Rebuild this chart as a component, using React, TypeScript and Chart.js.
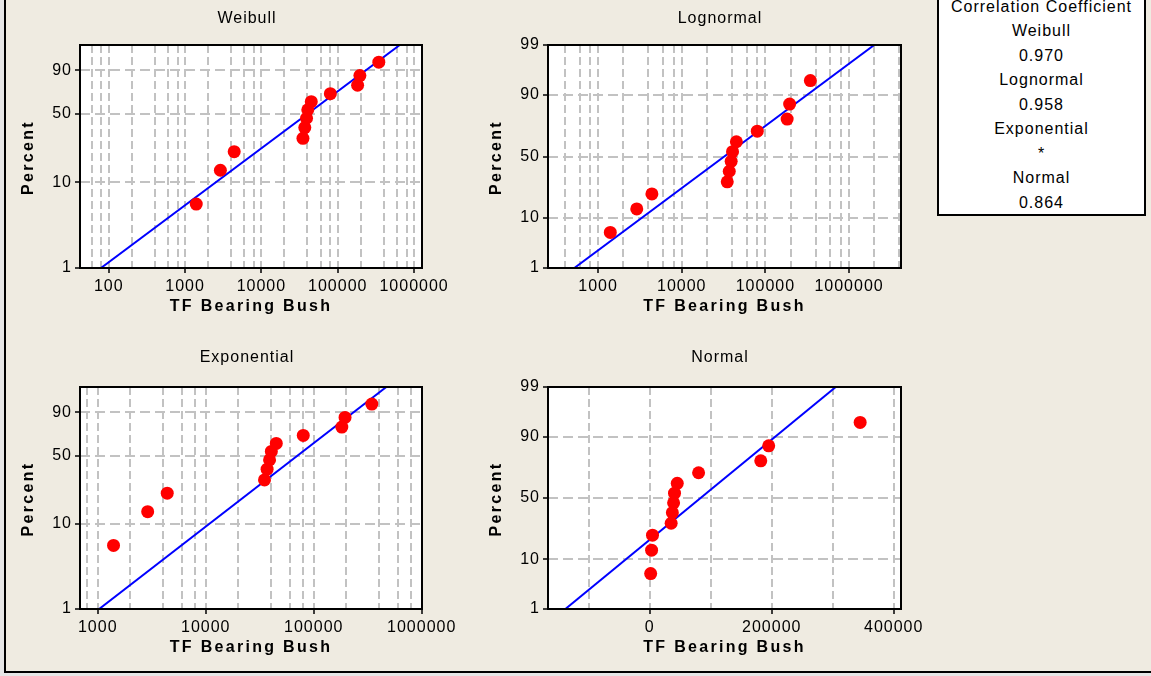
import React, { useEffect, useRef } from 'react';
import { Chart, Scale, registerables } from 'chart.js';

Chart.register(...registerables);

// ---------------- data ----------------
const tfBearingBush = [1400, 2900, 4400, 35000, 37000, 39000, 40500, 45000, 80000, 182000, 195000, 345000];
const percentRank = [5.65, 13.71, 21.77, 29.84, 37.9, 45.97, 54.03, 62.1, 70.16, 78.23, 86.29, 94.35];

const fitPercent = [1, 99];
const weibullFitX = [79, 650000];
const lognormalFitX = [520, 2000000];
const exponentialFitX = [1030, 470000];
const normalFitX = [-138500, 305000];

const weibullPercentTicks = [1, 10, 50, 90];
const lognormalPercentTicks = [1, 10, 50, 90, 99];
const exponentialPercentTicks = [1, 10, 50, 90];
const normalPercentTicks = [1, 10, 50, 90, 99];

const weibullXLabels = [100, 1000, 10000, 100000, 1000000];
const lognormalXLabels = [1000, 10000, 100000, 1000000];
const exponentialXLabels = [1000, 10000, 100000, 1000000];
const normalXLabels = [0, 200000, 400000];
const normalXGrid = [-100000, 0, 100000, 200000, 300000, 400000];
const logGridSteps = [1, 2, 4, 6, 8];

const correlationTitle = 'Correlation Coefficient';
const correlationNames = ['Weibull', 'Lognormal', 'Exponential', 'Normal'];
const correlationValues = ['0.970', '0.958', '*', '0.864'];

const xAxisTitle = 'TF Bearing Bush';
const yAxisTitle = 'Percent';

// ---------------- styling ----------------
const FONT_FAMILY = "'Liberation Sans', Arial, Helvetica, sans-serif";
const GRID_COLOR = '#c2c2c2';
const PAGE_BG = '#EFEBE1';

function logGrid(min: number, max: number) {
  const out: number[] = [];
  for (let e = 0; e <= 7; e++) {
    for (const s of logGridSteps) {
      const v = s * Math.pow(10, e);
      if (v >= min && v <= max) out.push(v);
    }
  }
  return out;
}

// inverse standard normal CDF (Acklam)
function probit(p: number) {
  const a = [-3.969683028665376e1, 2.209460984245205e2, -2.759285104469687e2, 1.38357751867269e2, -3.066479806614716e1, 2.506628277459239];
  const b = [-5.447609879822406e1, 1.615858368580409e2, -1.556989798598866e2, 6.680131188771972e1, -1.328068155288572e1];
  const c = [-7.784894002430293e-3, -3.223964580411365e-1, -2.400758277161838, -2.549732539343734, 4.374664141464968, 2.938163982698783];
  const d = [7.784695709041462e-3, 3.224671290700398e-1, 2.445134137142996, 3.754408661907416];
  const pl = 0.02425;
  if (p < pl) {
    const q = Math.sqrt(-2 * Math.log(p));
    return (((((c[0] * q + c[1]) * q + c[2]) * q + c[3]) * q + c[4]) * q + c[5]) / ((((d[0] * q + d[1]) * q + d[2]) * q + d[3]) * q + 1);
  }
  if (p > 1 - pl) {
    const q = Math.sqrt(-2 * Math.log(1 - p));
    return -(((((c[0] * q + c[1]) * q + c[2]) * q + c[3]) * q + c[4]) * q + c[5]) / ((((d[0] * q + d[1]) * q + d[2]) * q + d[3]) * q + 1);
  }
  const q = p - 0.5;
  const r = q * q;
  return ((((((a[0] * r + a[1]) * r + a[2]) * r + a[3]) * r + a[4]) * r + a[5]) * q) / (((((b[0] * r + b[1]) * r + b[2]) * r + b[3]) * r + b[4]) * r + 1);
}

// probability-paper axis: values are percents, positions follow the distribution
class ProbabilityScale extends Scale {
  static id = 'probability';
  static defaults = {};
  transformValue(v: number) {
    const p = v / 100;
    return (this.options as any).distribution === 'normal' ? probit(p) : Math.log(-Math.log(1 - p));
  }
  determineDataLimits() {
    const o: any = this.options;
    this.min = o.min;
    this.max = o.max;
  }
  buildTicks() {
    return [];
  }
  getLabelForValue(v: number) {
    return String(v);
  }
  getPixelForValue(v: number) {
    const t0 = this.transformValue(this.min);
    const t1 = this.transformValue(this.max);
    return this.getPixelForDecimal((this.transformValue(v) - t0) / (t1 - t0));
  }
  getValueForPixel(px: number) {
    let lo = this.min, hi = this.max;
    for (let i = 0; i < 40; i++) {
      const mid = (lo + hi) / 2;
      const pm = this.getPixelForValue(mid);
      if (pm > px) lo = mid; else hi = mid;
    }
    return (lo + hi) / 2;
  }
}
Chart.register(ProbabilityScale as any);

type Panel = {
  key: string;
  title: string;
  distribution: 'weibull' | 'normal';
  xType: 'logarithmic' | 'linear';
  xMin: number;
  xMax: number;
  xGrid: number[];
  xLabels: number[];
  yTicks: number[];
  fitX: number[];
  left: number;
  top: number;
  width: number;
  height: number;
  padding: { left: number; top: number; right: number; bottom: number };
  yAxisWidth: number;
  xAxisHeight: number;
  titleX: number;
  titleY: number;
};

const panels: Panel[] = [
  {
    key: 'weibull', title: 'Weibull', distribution: 'weibull', xType: 'logarithmic',
    xMin: 42, xMax: 1270000, xGrid: logGrid(42, 1270000), xLabels: weibullXLabels,
    yTicks: weibullPercentTicks, fitX: weibullFitX,
    left: 0, top: 0, width: 470, height: 335,
    padding: { left: 0, top: 45, right: 48, bottom: 27 }, yAxisWidth: 80, xAxisHeight: 40,
    titleX: 247, titleY: 18.7,
  },
  {
    key: 'lognormal', title: 'Lognormal', distribution: 'normal', xType: 'logarithmic',
    xMin: 252, xMax: 4180000, xGrid: logGrid(252, 4180000), xLabels: lognormalXLabels,
    yTicks: lognormalPercentTicks, fitX: lognormalFitX,
    left: 470, top: 0, width: 470, height: 335,
    padding: { left: 0, top: 45, right: 39, bottom: 27 }, yAxisWidth: 78, xAxisHeight: 40,
    titleX: 250, titleY: 18.7,
  },
  {
    key: 'exponential', title: 'Exponential', distribution: 'weibull', xType: 'logarithmic',
    xMin: 685, xMax: 1006000, xGrid: logGrid(685, 1006000), xLabels: exponentialXLabels,
    yTicks: exponentialPercentTicks, fitX: exponentialFitX,
    left: 0, top: 335, width: 470, height: 336,
    padding: { left: 0, top: 52, right: 48, bottom: 22 }, yAxisWidth: 80, xAxisHeight: 40,
    titleX: 247, titleY: 23,
  },
  {
    key: 'normal', title: 'Normal', distribution: 'normal', xType: 'linear',
    xMin: -167000, xMax: 412000, xGrid: normalXGrid, xLabels: normalXLabels,
    yTicks: normalPercentTicks, fitX: normalFitX,
    left: 470, top: 335, width: 470, height: 336,
    padding: { left: 0, top: 52, right: 39, bottom: 22 }, yAxisWidth: 78, xAxisHeight: 40,
    titleX: 250, titleY: 23,
  },
];

function buildConfig(panel: Panel): any {
  const points = tfBearingBush.map((x, i) => ({ x, y: percentRank[i] }));
  const fit = panel.fitX.map((x, i) => ({ x, y: fitPercent[i] }));
  const tickFont = { family: FONT_FAMILY, size: 16 };

  const decor = {
    id: 'panelDecor',
    beforeDraw(chart: any) {
      const { ctx, chartArea: a } = chart;
      ctx.letterSpacing = '1px';
      ctx.save();
      ctx.fillStyle = '#ffffff';
      ctx.fillRect(a.left, a.top, a.right - a.left, a.bottom - a.top);
      ctx.restore();
    },
    afterDraw(chart: any) {
      const { ctx, chartArea: a } = chart;
      ctx.save();
      ctx.letterSpacing = '0px';
      ctx.strokeStyle = '#000';
      ctx.lineWidth = 2;
      ctx.strokeRect(a.left, a.top, a.right - a.left, a.bottom - a.top);
      ctx.fillStyle = '#000';
      ctx.textAlign = 'center';
      ctx.textBaseline = 'middle';
      ctx.font = `16px ${FONT_FAMILY}`;
      ctx.letterSpacing = '1px';
      ctx.fillText(panel.title, panel.titleX, panel.titleY);
      ctx.font = `bold 16px ${FONT_FAMILY}`;
      ctx.letterSpacing = '2.3px';
      ctx.fillText(xAxisTitle, (a.left + a.right) / 2, a.bottom + 38.7);
      ctx.translate(a.left - 51, (a.top + a.bottom) / 2 + 1);
      ctx.rotate(-Math.PI / 2);
      ctx.fillText(yAxisTitle, 0, 0);
      ctx.restore();
    },
  };

  return {
    type: 'scatter',
    data: {
      datasets: [
        {
          label: 'TF Bearing Bush',
          data: points,
          pointRadius: 6.5,
          pointBackgroundColor: '#ff0000',
          pointBorderColor: '#ff0000',
          pointBorderWidth: 0,
          showLine: false,
          order: 0,
        },
        {
          label: 'fit',
          data: fit,
          showLine: true,
          borderColor: '#0000ff',
          borderWidth: 2,
          pointRadius: 0,
          fill: false,
          tension: 0,
          order: 1,
        },
      ],
    },
    options: {
      animation: false,
      responsive: false,
      events: [],
      layout: { padding: panel.padding },
      plugins: {
        legend: { display: false },
        title: { display: false },
        tooltip: { enabled: false },
      },
      scales: {
        x: {
          type: panel.xType,
          min: panel.xMin,
          max: panel.xMax,
          bounds: 'data',
          afterBuildTicks: (s: any) => {
            s.ticks = panel.xGrid.map((v) => ({ value: v }));
          },
          afterFit: (s: any) => {
            s.height = panel.xAxisHeight;
          },
          ticks: {
            autoSkip: false,
            maxRotation: 0,
            minRotation: 0,
            padding: 4,
            color: '#000',
            font: tickFont,
            callback: (v: number) => (panel.xLabels.includes(v) ? String(v) : ''),
          },
          grid: {
            color: GRID_COLOR,
            lineWidth: 2,
            drawTicks: true,
            tickLength: 5,
            tickWidth: 1.5,
            tickBorderDash: [],
            tickColor: (c: any) => (c.tick && panel.xLabels.includes(c.tick.value) ? '#000' : 'rgba(0,0,0,0)'),
          },
          border: { display: false, dash: [8, 4] },
        },
        y: {
          type: 'probability',
          distribution: panel.distribution,
          min: 1,
          max: 99,
          afterBuildTicks: (s: any) => {
            s.ticks = panel.yTicks.map((v) => ({ value: v }));
          },
          afterFit: (s: any) => {
            s.width = panel.yAxisWidth;
          },
          ticks: {
            autoSkip: false,
            padding: 3,
            color: '#000',
            font: tickFont,
          },
          grid: {
            color: GRID_COLOR,
            lineWidth: 2,
            drawTicks: true,
            tickLength: 5,
            tickWidth: 1.5,
            tickBorderDash: [],
            tickColor: '#000',
          },
          border: { display: false, dash: [10, 5] },
        },
      },
    },
    plugins: [decor],
  };
}

function ProbabilityPanel({ panel }: { panel: Panel }) {
  const ref = useRef<HTMLCanvasElement | null>(null);
  useEffect(() => {
    if (!ref.current) return;
    const chart = new Chart(ref.current, buildConfig(panel));
    return () => chart.destroy();
  }, [panel]);
  return (
    <canvas
      ref={ref}
      width={panel.width}
      height={panel.height}
      style={{ position: 'absolute', left: panel.left, top: panel.top, width: panel.width, height: panel.height }}
    />
  );
}

export default function App() {
  return (
    <div
      style={{
        position: 'fixed',
        left: 0,
        top: 0,
        width: 1151,
        height: 676,
        overflow: 'hidden',
        background: '#e6e6e6',
      }}
    >
      <div
        style={{
          position: 'absolute',
          left: 4,
          top: -10,
          width: 1180,
          height: 683,
          boxSizing: 'border-box',
          border: '2px solid #000',
          background: PAGE_BG,
        }}
      />
      {panels.map((p) => (
        <ProbabilityPanel key={p.key} panel={p} />
      ))}
      <div
        style={{
          position: 'absolute',
          left: 937,
          top: -20,
          width: 209,
          height: 236,
          boxSizing: 'border-box',
          border: '2px solid #000',
          background: '#fff',
          fontFamily: FONT_FAMILY,
          fontSize: 16,
          letterSpacing: '1px',
          lineHeight: '24.5px',
          textAlign: 'center',
          color: '#000',
          paddingTop: 12.75,
        }}
      >
        <div>{correlationTitle}</div>
        {correlationNames.map((n, i) => (
          <React.Fragment key={n}>
            <div>{n}</div>
            <div>{correlationValues[i]}</div>
          </React.Fragment>
        ))}
      </div>
    </div>
  );
}
